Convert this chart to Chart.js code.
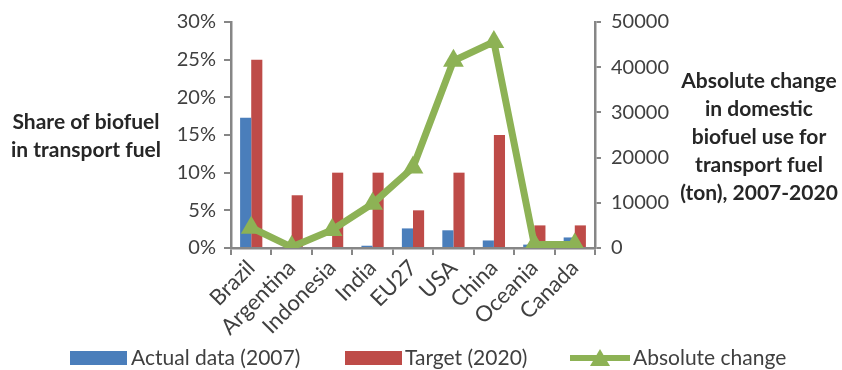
<!DOCTYPE html>
<html>
<head>
<meta charset="utf-8">
<script src="https://cdn.jsdelivr.net/npm/chart.js@4"></script>
<style>
  html, body { margin: 0; padding: 0; background: #fff; }
  canvas { display: block; }
</style>
</head>
<body>
<canvas id="c" width="842" height="370"></canvas>
<script>
// Regions
const categories = ['Brazil', 'Argentina', 'Indonesia', 'India', 'EU27', 'USA', 'China', 'Oceania', 'Canada'];
// Share of biofuel in transport fuel (%)
const actual2007 = [17.3, 0, 0, 0.3, 2.6, 2.35, 1.0, 0.45, 1.4];
const target2020 = [25, 7, 10, 10, 5, 10, 15, 3, 3];
// Absolute change in domestic biofuel use (ton), 2007-2020
const absoluteChange = [4500, 200, 4000, 9800, 17800, 41400, 45600, 800, 800];
// Axis ticks
const shareTicks = [0, 5, 10, 15, 20, 25, 30];
const changeTicks = [0, 10000, 20000, 30000, 40000, 50000];

const seriesNames = ['Actual data (2007)', 'Target (2020)', 'Absolute change'];
const leftTitle = ['Share of biofuel', 'in transport fuel'];
const rightTitle = ['Absolute change', 'in domestic', 'biofuel use for', 'transport fuel', '(ton), 2007-2020'];

const BLUE = '#4A7EBB', RED = '#BE4B48', GREEN = '#8DB255';
const AXIS = '#868686', TEXT = '#404040';
const FONT = 'Lato, "Open Sans", sans-serif';

// Axis titles and legend drawn onto the canvas
const decorations = {
  id: 'decorations',
  afterDraw(chart) {
    const ctx = chart.ctx;
    ctx.save();
    ctx.fillStyle = '#262626';
    ctx.font = 'bold 21px ' + FONT;
    ctx.textAlign = 'center';
    ctx.textBaseline = 'middle';
    leftTitle.forEach((t, i) => ctx.fillText(t, 86, 122 + i * 28));
    rightTitle.forEach((t, i) => ctx.fillText(t, 759, 81 + i * 28));

    // legend
    const y = 358;
    ctx.font = '21px ' + FONT;
    ctx.textAlign = 'left';
    ctx.fillStyle = BLUE; ctx.fillRect(70, y - 7, 57, 14);
    ctx.fillStyle = TEXT; ctx.fillText(seriesNames[0], 131, y);
    ctx.fillStyle = RED; ctx.fillRect(345, y - 7, 57, 14);
    ctx.fillStyle = TEXT; ctx.fillText(seriesNames[1], 405, y);
    ctx.strokeStyle = GREEN; ctx.lineWidth = 6;
    ctx.beginPath(); ctx.moveTo(570, y); ctx.lineTo(630, y); ctx.stroke();
    ctx.fillStyle = GREEN;
    ctx.beginPath(); ctx.moveTo(600, y - 9); ctx.lineTo(610, y + 8); ctx.lineTo(590, y + 8); ctx.closePath(); ctx.fill();
    ctx.fillStyle = TEXT; ctx.fillText(seriesNames[2], 633, y);
    ctx.restore();
  }
};

new Chart(document.getElementById('c'), {
  type: 'bar',
  data: {
    labels: categories,
    datasets: [
      { type: 'line', label: seriesNames[2], data: absoluteChange, yAxisID: 'y1',
        borderColor: GREEN, backgroundColor: GREEN, borderWidth: 7,
        pointStyle: 'triangle', pointRadius: 12, pointHoverRadius: 12,
        pointBorderWidth: 0, tension: 0, order: 0 },
      { label: seriesNames[0], data: actual2007, yAxisID: 'y', backgroundColor: BLUE,
        barPercentage: 1, categoryPercentage: 0.55, order: 1 },
      { label: seriesNames[1], data: target2020, yAxisID: 'y', backgroundColor: RED,
        barPercentage: 1, categoryPercentage: 0.55, order: 1 }
    ]
  },
  options: {
    responsive: false,
    animation: false,
    layout: { padding: { top: 22, left: 0, right: 0, bottom: 0 } },
    plugins: { legend: { display: false }, tooltip: { enabled: false } },
    scales: {
      x: {
        offset: true,
        afterFit(s) { s.height = 122; },
        border: { color: AXIS, width: 2.5 },
        grid: { offset: true, drawOnChartArea: false, drawTicks: true, tickLength: 7, color: AXIS, lineWidth: 2 },
        ticks: { color: TEXT, font: { family: FONT, size: 22 }, minRotation: 45, maxRotation: 45, padding: 0, autoSkip: false }
      },
      y: {
        position: 'left', min: 0, max: 30,
        afterFit(s) { s.width = 231; },
        afterBuildTicks(s) { s.ticks = shareTicks.map(v => ({ value: v })); },
        border: { color: AXIS, width: 2.5 },
        grid: { drawOnChartArea: false, drawTicks: true, tickLength: 7, color: AXIS, lineWidth: 2 },
        ticks: { color: TEXT, font: { family: FONT, size: 20 }, padding: 8, callback: v => v + '%' }
      },
      y1: {
        position: 'right', min: 0, max: 50000,
        afterFit(s) { s.width = 247; },
        afterBuildTicks(s) { s.ticks = changeTicks.map(v => ({ value: v })); },
        border: { color: AXIS, width: 2.5 },
        grid: { drawOnChartArea: false, drawTicks: true, tickLength: 6, color: AXIS, lineWidth: 2 },
        ticks: { color: TEXT, font: { family: FONT, size: 20 }, padding: 10, callback: v => String(v) }
      }
    }
  },
  plugins: [decorations]
});
</script>
</body>
</html>
